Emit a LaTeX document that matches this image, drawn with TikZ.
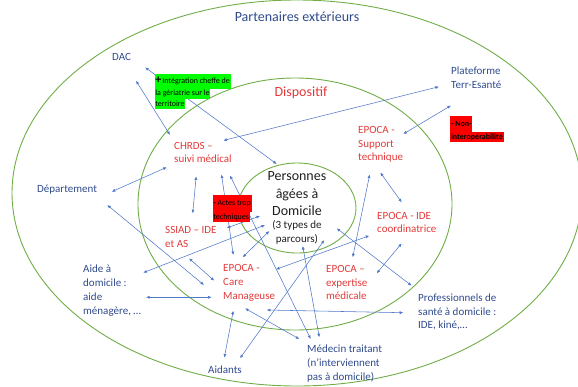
\documentclass[tikz,border=0pt]{standalone}
\usepackage{fontspec}
\setmainfont{Carlito}
\usetikzlibrary{arrows.meta}

\definecolor{navytxt}{RGB}{47,74,140}
\definecolor{redtxt}{RGB}{226,58,58}
\definecolor{ringgreen}{RGB}{112,173,71}
\definecolor{linkblue}{RGB}{79,120,200}
\definecolor{hlgreen}{RGB}{0,255,0}
\definecolor{hlred}{RGB}{255,0,0}

\tikzset{
  ring/.style={draw=ringgreen, line width=0.9pt},
  lbl/.style={font=\fontsize{11}{13.8}\selectfont, align=left, inner sep=0pt, anchor=west},
  ext/.style={lbl, text=navytxt},
  int/.style={lbl, text=redtxt},
  title/.style={font=\fontsize{14}{17.5}\selectfont, inner sep=0pt},
  link/.style={draw=linkblue, line width=0.55pt,
    {Latex[length=3.6pt,width=3pt]}-{Latex[length=3.6pt,width=3pt]}},
  hl/.style={font=\fontsize{8}{9}\selectfont, inner xsep=0.8pt, inner ysep=0pt,
    anchor=north west, text=black},
  hlg/.style={hl, fill=hlgreen},
  hlr/.style={hl, fill=hlred},
}

\begin{document}
\begin{tikzpicture}[x=1pt,y=-1pt]
\useasboundingbox (0,0) rectangle (578,386);

% the three nested circles of actors
\draw[ring] (297,193) ellipse [x radius=285, y radius=193];
\draw[ring] (295,204) ellipse [x radius=157, y radius=126];
\draw[ring] (297,208) ellipse [x radius=59, y radius=45];

% titles
\node[title, text=navytxt] (part) at (297,17) {Partenaires extérieurs};
\node[title, text=redtxt] (dispo) at (301,93) {Dispositif};
\node[title, align=center, text=black!88] (pad) at (297,194) {Personnes\\âgées à\\Domicile};
\node[lbl, anchor=center, align=center, text=black!88, font=\fontsize{11}{13.5}\selectfont]
  (padsub) at (297,232.5) {(3 types de\\parcours)};

% outer partners
\node[ext] (dac) at (112,57) {DAC};
\node[ext] (plat) at (451,77.5) {Plateforme\\Terr-Esanté};
\node[ext] (dept) at (37,190) {Département};
\node[ext, font=\fontsize{11}{14}\selectfont] (aide) at (83,290.5) {Aide à\\domicile :\\aide\\ménagère, …};
\node[ext] (pro) at (418,312) {Professionnels de\\santé à domicile :\\IDE, kiné,…};
\node[ext, anchor=center] (aidants) at (225,370) {Aidants};
\node[ext] (med) at (307,363.5) {Médecin traitant\\(n’interviennent\\pas à domicile)};

% inner actors
\node[int] (chrds) at (174,152.5) {CHRDS –\\suivi médical};
\node[int] (supp) at (358,144.5) {EPOCA -\\Support\\technique};
\node[int] (ssiad) at (165,237) {SSIAD – IDE\\et AS};
\node[int] (ide) at (377,222.5) {EPOCA - IDE\\coordinatrice};
\node[int] (care) at (223,283) {EPOCA -\\Care\\Manageuse};
\node[int] (expert) at (326,282.5) {EPOCA –\\expertise\\médicale};

% connector ends
\coordinate (dac-pad)  at (145,67.3);   \coordinate (pad-dac)  at (276.7,164);
\coordinate (dac-chr)  at (136,80.7);   \coordinate (chr-dac)  at (170,135);
\coordinate (plat-chr) at (439,86.7);   \coordinate (chr-plat) at (223.3,140.5);
\coordinate (plat-sup) at (451,105.5);  \coordinate (sup-plat) at (403.3,134);
\coordinate (chr-dept) at (166.7,167.3);\coordinate (dept-chr) at (111.7,191.7);
\coordinate (chr-ssi)  at (196.2,176.3);\coordinate (ssi-chr)  at (192.7,213.3);
\coordinate (chr-care) at (221.5,174.5);\coordinate (care-chr) at (233.3,255);
\coordinate (chr-med)  at (230,175.5);  \coordinate (med-chr)  at (310.7,339);
\coordinate (dept-care) at (107.3,205); \coordinate (care-dept) at (204,285);
\coordinate (pad-ssi)  at (260,216);    \coordinate (ssi-pad)  at (226.7,228);
\coordinate (pad-aide) at (265,225);    \coordinate (aide-pad) at (143.3,272.7);
\coordinate (pad-care) at (269.3,231);  \coordinate (care-pad) at (242.7,257.3);
\coordinate (pad-med)  at (302.7,246);  \coordinate (med-pad)  at (319.3,337.3);
\coordinate (pad-aid)  at (324.3,240);  \coordinate (aid-pad)  at (240,358.3);
\coordinate (pad-pro)  at (336.7,228.3);\coordinate (pro-pad)  at (411.7,285.7);
\coordinate (sup-exp)  at (369.7,174.5);\coordinate (exp-sup)  at (352.7,257.3);
\coordinate (sup-ide)  at (380.3,172.5);\coordinate (ide-sup)  at (401.7,202.3);
\coordinate (ide-care) at (369.3,235.7);\coordinate (care-ide) at (276,269.3);
\coordinate (ide-exp)  at (401.7,243.3);\coordinate (exp-ide)  at (376.7,273.3);
\coordinate (ssi-care) at (189,258.3);  \coordinate (care-ssi) at (214.3,280.7);
\coordinate (aide-care) at (146,297.3); \coordinate (care-aide) at (211.7,297.3);
\coordinate (care-pro) at (266.7,310);  \coordinate (pro-care) at (403.3,312.7);
\coordinate (care-aid) at (233.3,310.7);\coordinate (aid-care) at (224.3,357.7);
\coordinate (care-med) at (245,308.3);  \coordinate (med-care) at (299.3,339);

% links between actors
\draw[link] (dac-pad) -- (pad-dac);
\draw[link] (dac-chr) -- (chr-dac);
\draw[link] (plat-chr) -- (chr-plat);
\draw[link] (plat-sup) -- (sup-plat);
\draw[link] (chr-dept) -- (dept-chr);
\draw[link] (chr-ssi) -- (ssi-chr);
\draw[link] (chr-care) -- (care-chr);
\draw[link] (chr-med) -- (med-chr);
\draw[link] (dept-care) -- (care-dept);
\draw[link] (pad-ssi) -- (ssi-pad);
\draw[link] (pad-aide) -- (aide-pad);
\draw[link] (pad-care) -- (care-pad);
\draw[link] (pad-med) -- (med-pad);
\draw[link] (pad-aid) -- (aid-pad);
\draw[link] (pad-pro) -- (pro-pad);
\draw[link] (sup-exp) -- (exp-sup);
\draw[link] (sup-ide) -- (ide-sup);
\draw[link] (ide-care) -- (care-ide);
\draw[link] (ide-exp) -- (exp-ide);
\draw[link] (ssi-care) -- (care-ssi);
\draw[link] (aide-care) -- (care-aide);
\draw[link] (care-pro) -- (pro-care);
\draw[link] (care-aid) -- (aid-care);
\draw[link] (care-med) -- (med-care);

% highlighted remarks
\node[hlg, minimum height=15.7pt] (plus1) at (154.3,73.3)
  {{\bfseries\fontsize{12}{12}\selectfont +}\hspace{1pt}Intégration cheffe de};
\node[hlg, minimum height=9.3pt] (plus2) at (154.3,89) {la gériatrie sur le};
\node[hlg, minimum height=10pt] (plus3) at (154.3,98.3) {territoire};

\node[hlr, minimum height=15.7pt] (minus1) at (450,116) {\bfseries - Non-};
\node[hlr, minimum height=10pt] (minus2) at (450,131.7) {\bfseries interopérabilité};

\node[hlr, minimum height=16.7pt] (acte1) at (212.3,195) {\textbf{-} Actes trop};
\node[hlr, minimum height=10pt] (acte2) at (212.3,211.7) {techniques};
\end{tikzpicture}
\end{document}
